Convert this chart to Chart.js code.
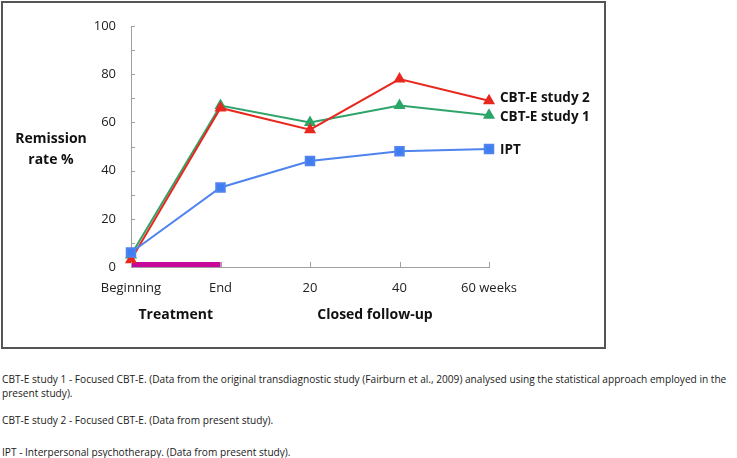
<!DOCTYPE html>
<html>
<head>
<meta charset="utf-8">
<script src="https://cdn.jsdelivr.net/npm/chart.js@4.4.1/dist/chart.umd.min.js"></script>
<style>
  body { margin: 0; background: #fff; font-family: "Open Sans", sans-serif; }
  #wrap { position: relative; width: 737px; height: 458px; }
  #box { position: absolute; left: 1px; top: 1px; width: 601px; height: 344px; border: 2px solid #555; pointer-events: none; }
  #chartHolder { position: absolute; left: 0; top: 0; width: 737px; height: 347px; }
  .note { position: absolute; left: 2px; font-size: 10.15px; color: #1a1a1a; white-space: nowrap; line-height: 14px; }
</style>
</head>
<body>
<div id="wrap">
  <div id="chartHolder"><canvas id="remissionChart"></canvas></div>
  <div id="box"></div>
  <div class="note" style="top:372px">CBT-E study 1 - Focused CBT-E. (Data from the original transdiagnostic study (Fairburn et al., 2009) analysed using the statistical approach employed in the<br>present study).</div>
  <div class="note" style="top:413px">CBT-E study 2 - Focused CBT-E. (Data from present study).</div>
  <div class="note" style="top:445px">IPT - Interpersonal psychotherapy. (Data from present study).</div>
</div>

<script>
// ---- data ----
const timepoints = ['Beginning', 'End', '20', '40', '60 weeks'];
const cbtStudy2 = [3, 66, 57, 78, 69];
const cbtStudy1 = [5, 67, 60, 67, 63];
const ipt = [6, 33, 44, 48, 49];
const treatmentBar = [1, 1, null, null, null];
const yTicks = [0, 20, 40, 60, 80, 100];

const FONT = '"Open Sans", sans-serif';

// axis ticks drawn inward like the original, plus the side labels
const decorations = {
    id: 'decorations',
    afterDraw(chart) {
        const { ctx, chartArea, scales } = chart;
        const x = scales.x, y = scales.y;
        ctx.save();
        ctx.strokeStyle = '#a0a0a0';
        ctx.lineWidth = 1;
        // y minor/major ticks pointing right
        for (let v = 0; v <= 100; v += 10) {
            const py = Math.round(y.getPixelForValue(v)) + 0.5;
            ctx.beginPath();
            ctx.moveTo(chartArea.left, py);
            ctx.lineTo(chartArea.left + 4, py);
            ctx.stroke();
        }
        // x ticks pointing up
        timepoints.forEach((t, i) => {
            const px = Math.round(x.getPixelForValue(i)) + 0.5;
            ctx.beginPath();
            ctx.moveTo(px, chartArea.bottom);
            ctx.lineTo(px, chartArea.bottom - 5);
            ctx.stroke();
        });

        // series labels next to the last point
        ctx.fillStyle = '#111';
        ctx.font = 'bold 13.5px ' + FONT;
        ctx.textBaseline = 'middle';
        ctx.textAlign = 'left';
        const last = timepoints.length - 1;
        const labels = [
            { ds: 0, text: 'CBT-E study 2', dy: -3 },
            { ds: 1, text: 'CBT-E study 1', dy: 2 },
            { ds: 2, text: 'IPT', dy: 1 }
        ];
        labels.forEach(l => {
            const pt = chart.getDatasetMeta(l.ds).data[last];
            ctx.fillText(l.text, pt.x + 11, pt.y + l.dy);
        });

        // axis titles
        ctx.textAlign = 'center';
        ctx.font = 'bold 14px ' + FONT;
        ctx.fillText('Remission', 51, 139);
        ctx.fillText('rate %', 51, 160);
        ctx.fillText('Treatment', (x.getPixelForValue(0) + x.getPixelForValue(1)) / 2, 315);
        ctx.fillText('Closed follow-up', 375, 315);
        ctx.restore();
    }
};

const ctx = document.getElementById('remissionChart');
new Chart(ctx, {
    type: 'line',
    data: {
        labels: timepoints,
        datasets: [
            {
                label: 'CBT-E study 2',
                data: cbtStudy2,
                borderColor: '#e8281e',
                backgroundColor: '#e8281e',
                borderWidth: 2,
                pointStyle: 'triangle',
                pointRadius: 5,
                order: 1
            },
            {
                label: 'CBT-E study 1',
                data: cbtStudy1,
                borderColor: '#2ea46a',
                backgroundColor: '#1fae62',
                borderWidth: 2,
                pointStyle: 'triangle',
                pointRadius: 5,
                order: 2
            },
            {
                label: 'IPT',
                data: ipt,
                borderColor: '#4f83ee',
                backgroundColor: '#3f7df2',
                borderWidth: 2,
                pointStyle: 'rect',
                pointRadius: 6,
                order: 0
            },
            {
                label: 'Treatment',
                data: treatmentBar,
                borderColor: '#c8089a',
                borderWidth: 5,
                borderCapStyle: 'butt',
                pointRadius: 0,
                spanGaps: false,
                order: 3
            }
        ]
    },
    options: {
        responsive: true,
        maintainAspectRatio: false,
        animation: false,
        layout: {
            padding: { left: 0, top: 26, right: 248, bottom: 0 }
        },
        plugins: {
            legend: { display: false },
            tooltip: { enabled: false }
        },
        scales: {
            x: {
                type: 'category',
                offset: false,
                grid: { display: false, drawTicks: false },
                border: { display: true, color: '#a0a0a0', width: 1 },
                ticks: {
                    color: '#222',
                    padding: 13,
                    maxRotation: 0,
                    autoSkip: false,
                    font: { family: FONT, size: 13 }
                },
                afterFit(scale) { scale.height = 80; }
            },
            y: {
                min: 0,
                max: 100,
                grid: { display: false, drawTicks: false },
                border: { display: true, color: '#a0a0a0', width: 1 },
                afterBuildTicks(scale) {
                    scale.ticks = yTicks.map(v => ({ value: v }));
                },
                ticks: {
                    color: '#222',
                    padding: 15,
                    font: { family: FONT, size: 13 }
                },
                afterFit(scale) { scale.width = 131; }
            }
        }
    },
    plugins: [decorations]
});
</script>
</body>
</html>
